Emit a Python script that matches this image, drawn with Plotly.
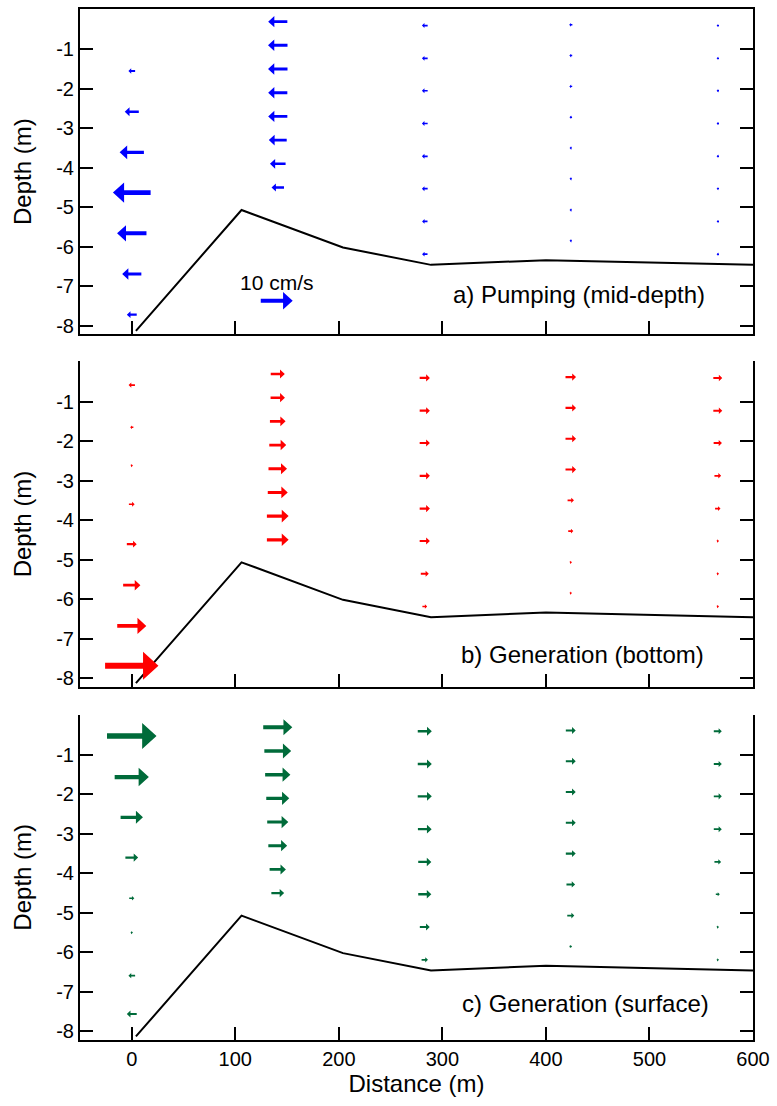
import plotly.graph_objects as go

# ---------------- data ----------------
station_x = [0, 141, 283, 424, 566]

# depth bins (m) per station (station 1 differs per panel)
depth_s1_a = [-1.55, -2.58, -3.61, -4.63, -5.66, -6.69, -7.72]
depth_s1_b = [-0.58, -1.65, -2.62, -3.60, -4.61, -5.65, -6.68, -7.69]
depth_s1_c = [-0.52, -1.56, -2.58, -3.60, -4.63, -5.50, -6.59, -7.56]
depth_s2 = [-0.30, -0.90, -1.50, -2.10, -2.70, -3.30, -3.90, -4.50]
depth_s3 = [-0.40, -1.23, -2.05, -2.88, -3.71, -4.53, -5.36, -6.19]
depth_s4 = [-0.38, -1.16, -1.94, -2.72, -3.50, -4.28, -5.07, -5.85]
depth_s5 = [-0.40, -1.23, -2.05, -2.88, -3.71, -4.53, -5.36, -6.19]

# along-channel velocity (cm/s), positive = towards larger distance
u_a_s1 = [-2.1, -4.4, -7.6, -11.8, -9.2, -6.0, -3.1]
u_a_s2 = [-6.0, -6.1, -6.1, -6.0, -6.0, -5.6, -4.9, -3.9]
u_a_s3 = [-1.8, -1.8, -1.8, -1.8, -1.8, -1.8, -1.7, -1.7]
u_a_s4 = [-1.0, -0.9, -0.9, -0.8, -0.5, -0.5, -0.5, -0.4]
u_a_s5 = [-0.6, -0.4, -0.4, -0.4, -0.4, -0.4, -0.4, -0.4]

u_b_s1 = [-2.0, -1.0, 0.3, 1.8, 3.1, 5.4, 9.1, 16.7]
u_b_s2 = [4.4, 4.5, 4.9, 5.3, 5.8, 6.25, 6.8, 6.8]
u_b_s3 = [3.2, 3.2, 3.2, 3.2, 3.2, 3.2, 2.5, 1.5]
u_b_s4 = [3.3, 3.3, 3.3, 3.3, 2.0, 1.6, 0.5, 0.5]
u_b_s5 = [2.8, 2.8, 2.6, 2.1, 1.7, 0.5, 0.4, 0.4]

u_c_s1 = [15.5, 10.7, 7.0, 4.0, 1.6, 0.2, -2.1, -3.1]
u_c_s2 = [9.1, 8.4, 7.9, 7.2, 6.6, 5.9, 5.1, 4.0]
u_c_s3 = [4.4, 4.4, 4.4, 4.3, 4.1, 4.1, 3.1, 2.0]
u_c_s4 = [3.1, 3.1, 3.1, 3.1, 3.1, 2.7, 2.2, 0.8]
u_c_s5 = [2.5, 2.5, 2.5, 2.5, 2.1, 1.25, 0.4, 0.4]

# bathymetry
bathy_x = [4, 106, 204, 289, 400, 600]
bathy_z = [-8.13, -5.07, -6.02, -6.46, -6.34, -6.46]

# scale arrow
scale_u = 10
scale_x = 140
scale_z = -7.37

panel_labels = ["a) Pumping (mid-depth)", "b) Generation (bottom)", "c) Generation (surface)"]
colors = ["#0000FF", "#FF0000", "#006B3A"]

x_ticks = [0, 100, 200, 300, 400, 500, 600]
y_ticks = [-1, -2, -3, -4, -5, -6, -7, -8]

# ---------------- styling constants ----------------
W, H = 777, 1106
ML, MR, MT, MB = 80, 23, 7, 66
XR = [-50, 600]
YR = [-8.22, 0.02]
panel_px_h = 326
PX_PER_X = (W - ML - MR) / (XR[1] - XR[0])
PX_PER_Y = panel_px_h / (YR[1] - YR[0])
PX_PER_CMS = 3.2  # arrow length in px per cm/s


def arrow_polys(xs, zs, us):
    px, pz = [], []
    for x0, z0, u in zip(xs, zs, us):
        s = 1 if u >= 0 else -1
        L = max(abs(u) * PX_PER_CMS, 2.4)
        sw = (1.2 + 0.09 * L) / 2
        hw = 0.24 * L + 1.1
        hl = 0.27 * L + 1.0
        if hl > 0.8 * L:
            hl = 0.8 * L
        Lx = L / PX_PER_X
        hlx = hl / PX_PER_X
        tail = x0 - s * Lx / 2
        tip = x0 + s * Lx / 2
        neck = tip - s * hlx
        swy = sw / PX_PER_Y
        hwy = hw / PX_PER_Y
        px += [tail, neck, neck, tip, neck, neck, tail, tail, None]
        pz += [z0 + swy, z0 + swy, z0 + hwy, z0, z0 - hwy, z0 - swy, z0 - swy, z0 + swy, None]
    return px, pz


panels = [
    [(station_x[0], depth_s1_a, u_a_s1), (station_x[1], depth_s2, u_a_s2), (station_x[2], depth_s3, u_a_s3),
     (station_x[3], depth_s4, u_a_s4), (station_x[4], depth_s5, u_a_s5)],
    [(station_x[0], depth_s1_b, u_b_s1), (station_x[1], depth_s2, u_b_s2), (station_x[2], depth_s3, u_b_s3),
     (station_x[3], depth_s4, u_b_s4), (station_x[4], depth_s5, u_b_s5)],
    [(station_x[0], depth_s1_c, u_c_s1), (station_x[1], depth_s2, u_c_s2), (station_x[2], depth_s3, u_c_s3),
     (station_x[3], depth_s4, u_c_s4), (station_x[4], depth_s5, u_c_s5)],
]

fig = go.Figure()
FONT = "Liberation Sans, Arial, sans-serif"

plot_h = H - MT - MB
panel_tops = [7, 360, 714]


def domain(top_px):
    top = 1 - (top_px - MT) / plot_h
    bot = 1 - (top_px + panel_px_h - MT) / plot_h
    return [max(bot, 0), min(top, 1)]


for i, pan in enumerate(panels):
    xa = "x" if i == 0 else f"x{i+1}"
    ya = "y" if i == 0 else f"y{i+1}"
    fig.add_trace(go.Scatter(x=bathy_x, y=bathy_z, mode="lines", line=dict(color="black", width=2),
                             xaxis=xa, yaxis=ya, showlegend=False, hoverinfo="skip"))
    ax_all, az_all = [], []
    for sx, zs, us in pan:
        px, pz = arrow_polys([sx] * len(zs), zs, us)
        ax_all += px
        az_all += pz
    if i == 0:
        px, pz = arrow_polys([scale_x], [scale_z], [scale_u])
        ax_all += px
        az_all += pz
    fig.add_trace(go.Scatter(x=ax_all, y=az_all, mode="lines", fill="toself", fillcolor=colors[i],
                             line=dict(width=0, color=colors[i]), xaxis=xa, yaxis=ya,
                             showlegend=False, hoverinfo="skip"))

common_x = dict(range=XR, showline=True, linecolor="black", linewidth=2, mirror=True,
                ticks="inside", ticklen=13, tickwidth=2, tickcolor="black", tickvals=x_ticks,
                showgrid=False, zeroline=False)
common_y = dict(range=YR, showline=True, linecolor="black", linewidth=2, mirror="ticks",
                ticks="inside", ticklen=13, tickwidth=2, tickcolor="black", tickvals=y_ticks,
                ticktext=[str(v) for v in y_ticks], showgrid=False, zeroline=False,
                tickfont=dict(family=FONT, size=20, color="black"),
                title=dict(text="Depth (m)", font=dict(family=FONT, size=24, color="black"), standoff=18))

lay = dict(width=W, height=H, margin=dict(l=ML, r=MR, t=MT, b=MB), plot_bgcolor="white",
           paper_bgcolor="white", showlegend=False)

for i in range(3):
    xn = "xaxis" if i == 0 else f"xaxis{i+1}"
    yn = "yaxis" if i == 0 else f"yaxis{i+1}"
    ya = "y" if i == 0 else f"y{i+1}"
    xa = "x" if i == 0 else f"x{i+1}"
    xd = dict(common_x, anchor=ya, showticklabels=(i == 2))
    if i > 0:
        xd["matches"] = "x"
        xd["mirror"] = False
    if i == 2:
        xd["tickfont"] = dict(family=FONT, size=20, color="black")
        xd["title"] = dict(text="Distance (m)", font=dict(family=FONT, size=24, color="black"), standoff=2)
    lay[xn] = xd
    lay[yn] = dict(common_y, domain=domain(panel_tops[i]), anchor=xa)

# panels b and c: top ticks every 50 m via overlay axes
for i in (1, 2):
    lay[f"xaxis{i+3}"] = dict(range=XR, overlaying=f"x{i+1}", side="top", anchor=f"y{i+1}",
                              showline=True, linecolor="black", linewidth=2,
                              ticks="inside", ticklen=13, tickwidth=2, tickcolor="black",
                              tickvals=[-50 + 50 * k for k in range(14)], showticklabels=False,
                              showgrid=False, zeroline=False)

fig.update_layout(**lay)

annotations = []
label_pos = [(556, -7.21), (555, -7.40), (559, -7.29)]
for i, (lx, lz) in enumerate(label_pos):
    xa = "x" if i == 0 else f"x{i+1}"
    ya = "y" if i == 0 else f"y{i+1}"
    annotations.append(dict(x=lx, y=lz, xref=xa, yref=ya, text=panel_labels[i], showarrow=False,
                            xanchor="right", yanchor="middle",
                            font=dict(family=FONT, size=24, color="black")))
annotations.append(dict(x=scale_x, y=-6.9, xref="x", yref="y", text=f"{scale_u} cm/s", showarrow=False,
                        xanchor="center", yanchor="middle", font=dict(family=FONT, size=21, color="black")))
fig.update_layout(annotations=annotations)

fig.write_html("out.html")
